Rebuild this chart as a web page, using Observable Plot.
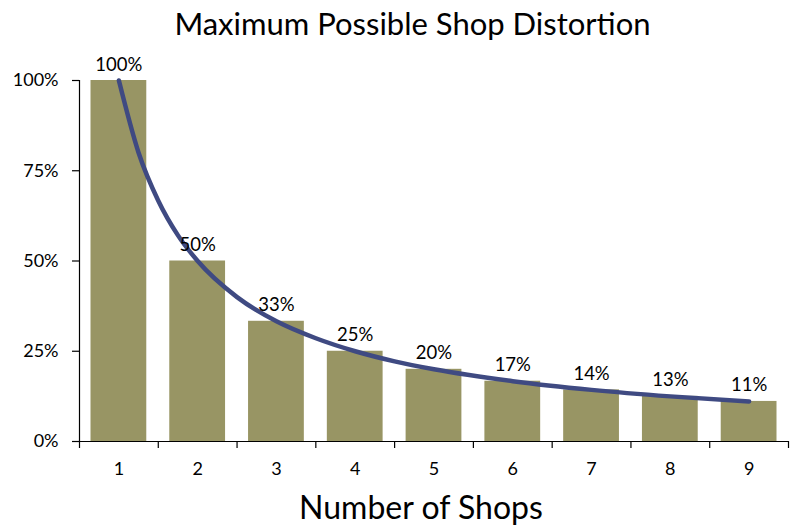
<!DOCTYPE html>
<html>
<head>
<meta charset="utf-8">
<script src="https://cdn.jsdelivr.net/npm/d3@7"></script>
<script src="https://cdn.jsdelivr.net/npm/@observablehq/plot@0.6"></script>
<style>
  html, body { margin: 0; padding: 0; background: #fff; }
  body { width: 793px; height: 527px; overflow: hidden; font-family: Lato, "Open Sans", sans-serif; }
  #title { height: 46px; box-sizing: border-box; padding-top: 5px; padding-left: 32px; text-align: center; font-size: 31px; color: #000; line-height: 36px; white-space: nowrap; }
</style>
</head>
<body>
<div id="title">Maximum Possible Shop Distortion</div>
<div id="chart"></div>
<script>
// Bars: number of shops and maximum distortion
const shops = [1, 2, 3, 4, 5, 6, 7, 8, 9];
const distortion = [1.00, 0.50, 0.333, 0.25, 0.20, 0.167, 0.143, 0.125, 0.111];
const barLabels = ["100%", "50%", "33%", "25%", "20%", "17%", "14%", "13%", "11%"];

// Curve points
const curveX = [1, 1.25, 1.5, 1.75, 2, 2.5, 3, 3.5, 4, 4.5, 5, 6, 7, 8, 9];
const curveY = [1.00, 0.80, 0.667, 0.571, 0.50, 0.40, 0.333, 0.286, 0.25, 0.222, 0.20, 0.167, 0.143, 0.125, 0.111];

// Axis ticks
const yTicks = [0, 0.25, 0.5, 0.75, 1];
const yTickLabels = ["0%", "25%", "50%", "75%", "100%"];
const xTickMarks = [0.5, 1.5, 2.5, 3.5, 4.5, 5.5, 6.5, 7.5, 8.5, 9.5];
const xAxisLabel = "Number of Shops";

const bars = shops.map((n, i) => ({n, v: distortion[i], label: barLabels[i]}));
const curve = curveX.map((x, i) => ({x, y: curveY[i]}));

const barColor = "#989564";
const lineColor = "#3f4a82";

const chart = Plot.plot({
  width: 793,
  height: 481,
  marginTop: 34,
  marginBottom: 86,
  marginLeft: 79,
  marginRight: 5,
  style: {fontFamily: "Lato, 'Open Sans', sans-serif", fontSize: "18px", color: "#000", background: "#fff", overflow: "visible"},
  x: {type: "linear", domain: [0.5, 9.5]},
  y: {domain: [0, 1]},
  marks: [
    Plot.rectY(bars, {x1: d => d.n - 0.5, x2: d => d.n + 0.5, y: "v", fill: barColor, insetLeft: 11.5, insetRight: 11.5}),
    Plot.line(curve, {x: "x", y: "y", stroke: lineColor, strokeWidth: 4.5, curve: "monotone-x", strokeLinecap: "round"}),
    Plot.text(bars, {x: "n", y: "v", text: "label", lineAnchor: "bottom", dy: -10, fontSize: 18.5, fill: "#000"}),
    Plot.ruleX([0.5], {y1: 0, y2: 1, stroke: "#000", strokeWidth: 1.2}),
    Plot.ruleY([0], {stroke: "#000", strokeWidth: 1.2}),
    Plot.axisY({ticks: yTicks, tickFormat: (d, i) => yTickLabels[i], tickSize: 7, tickPadding: 14, label: null, stroke: "#000", strokeWidth: 1.2, fontSize: 18}),
    Plot.axisX({ticks: xTickMarks, tickFormat: () => "", tickSize: 7, label: null, stroke: "#000", strokeWidth: 1.2}),
    Plot.axisX({ticks: shops, tickFormat: d => String(d), tickSize: 0, tickPadding: 21, label: null, fontSize: 18}),
    Plot.text([xAxisLabel], {frameAnchor: "bottom", dx: -13, dy: 55, lineAnchor: "top", fontSize: 32, fill: "#000"})
  ]
});
document.getElementById("chart").appendChild(chart);
</script>
</body>
</html>
